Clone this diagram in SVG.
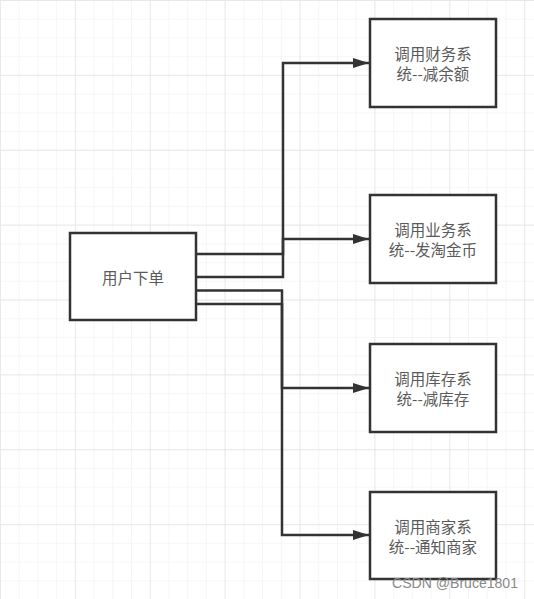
<svg xmlns="http://www.w3.org/2000/svg" width="534" height="599" viewBox="0 0 534 599">
  <defs>
    <pattern id="minor" width="18.72" height="18.72" patternUnits="userSpaceOnUse">
      <path d="M0,0 H18.72 M0,0 V18.72" fill="none" stroke="#efefef" stroke-width="1.2"/>
    </pattern>
    <pattern id="major" width="74.88" height="74.88" patternUnits="userSpaceOnUse">
      <path d="M0,0 H74.88 M0,0 V74.88" fill="none" stroke="#e4e4e4" stroke-width="1.4"/>
    </pattern>
    <marker id="arrow" markerWidth="16" markerHeight="10" refX="16" refY="5" orient="auto" markerUnits="userSpaceOnUse">
      <path d="M0,0 L16,5 L0,10 Z" fill="#333333"/>
    </marker>
  </defs>
  <style>
    .box { fill: #ffffff; stroke: #333333; stroke-width: 2.5; }
    .lbl { font-family: "Noto Sans CJK SC", "Noto Sans", sans-serif; font-size: 15.5px; fill: #5a5a5a; text-anchor: middle; }
    .conn { fill: none; stroke: #333333; stroke-width: 2.5; }
  </style>
  <rect width="534" height="599" fill="#ffffff"/>
  <rect width="534" height="599" fill="url(#minor)"/>
  <rect width="534" height="599" fill="url(#major)"/>

  <g id="connectors">
    <path class="conn" d="M196,254 H283 V63 H369" marker-end="url(#arrow)"/>
    <path class="conn" d="M196,277 H283 V239 H369" marker-end="url(#arrow)"/>
    <path class="conn" d="M196,290.5 H282 V388 H369" marker-end="url(#arrow)"/>
    <path class="conn" d="M196,304 H282 V535 H369" marker-end="url(#arrow)"/>
  </g>

  <g id="order">
    <rect class="box" x="70" y="233" width="126" height="87"/>
    <text class="lbl" x="133" y="283.5">用户下单</text>
  </g>
  <g id="finance">
    <rect class="box" x="370" y="19" width="126" height="88"/>
    <text class="lbl" x="433" y="60">调用财务系</text>
    <text class="lbl" x="433" y="80">统--减余额</text>
  </g>
  <g id="business">
    <rect class="box" x="370" y="195" width="126" height="88"/>
    <text class="lbl" x="433" y="236">调用业务系</text>
    <text class="lbl" x="433" y="256">统--发淘金币</text>
  </g>
  <g id="inventory">
    <rect class="box" x="370" y="344" width="126" height="88"/>
    <text class="lbl" x="433" y="385">调用库存系</text>
    <text class="lbl" x="433" y="405">统--减库存</text>
  </g>
  <g id="merchant">
    <rect class="box" x="370" y="492" width="126" height="87"/>
    <text class="lbl" x="433" y="533">调用商家系</text>
    <text class="lbl" x="433" y="553">统--通知商家</text>
  </g>
  <text x="392" y="588" font-family="Liberation Sans, sans-serif" font-size="15" fill="#888888" textLength="126" lengthAdjust="spacingAndGlyphs">CSDN @Bruce1801</text>
</svg>
